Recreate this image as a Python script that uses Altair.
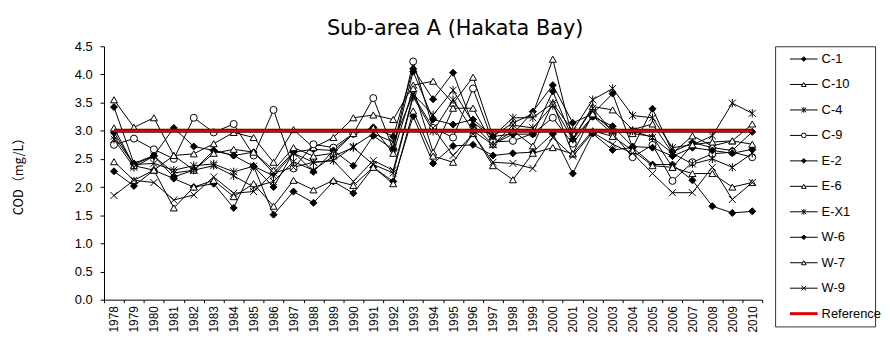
import altair as alt
import pandas as pd

years = list(range(1978, 2011))

series_names = ["C-1", "C-10", "C-4", "C-9", "E-2", "E-6", "E-X1", "W-6", "W-7", "W-9"]

C1 = [3.42, 2.42, 2.56, 3.05, 2.72, 2.65, 2.56, 2.62, 2.25, 2.62, 2.67, 2.65, 2.94, 3.06, 2.90, 4.10, 3.56,
      4.03, 3.10, 2.76, 2.94, 3.34, 3.81, 3.14, 3.30, 3.66, 2.70, 3.39, 2.62, 2.79, 2.70, 2.65, 2.98]
C10 = [3.55, 3.06, 3.23, 2.56, 2.59, 2.77, 2.97, 2.88, 2.44, 3.02, 2.70, 2.88, 3.23, 3.28, 3.20, 3.81, 3.88,
       3.49, 3.95, 2.90, 3.14, 3.30, 4.27, 2.85, 3.43, 3.37, 3.02, 3.12, 2.60, 2.91, 2.73, 2.82, 3.12]
C4 = [2.90, 2.40, 2.42, 2.30, 2.38, 2.41, 2.27, 2.37, 2.20, 2.60, 2.44, 2.47, 2.72, 2.95, 2.80, 3.65, 3.28,
      3.72, 3.14, 2.90, 3.23, 3.23, 3.49, 3.00, 3.55, 3.75, 3.27, 3.23, 2.70, 2.75, 2.91, 3.49, 3.31]
C9 = [2.75, 2.86, 2.67, 2.50, 3.23, 2.97, 3.12, 2.56, 3.37, 2.33, 2.76, 2.70, 2.95, 3.58, 2.67, 4.23, 3.05,
      2.88, 3.75, 2.80, 2.82, 2.95, 3.23, 2.77, 3.26, 2.95, 2.53, 2.75, 2.11, 2.44, 2.59, 2.62, 2.53]
E2 = [2.97, 2.40, 2.55, 2.18, 2.30, 2.65, 2.56, 2.37, 2.00, 2.62, 2.27, 2.65, 2.38, 2.91, 2.67, 4.05, 3.20,
      3.11, 3.20, 2.90, 2.94, 2.94, 3.70, 2.85, 3.25, 3.08, 2.72, 2.70, 2.55, 2.70, 2.65, 2.60, 2.67]
E6 = [3.05, 2.38, 2.30, 2.56, 2.30, 2.60, 2.67, 2.62, 2.30, 2.70, 2.55, 2.60, 2.95, 3.05, 2.60, 3.75, 2.62,
      3.40, 3.40, 2.76, 3.00, 2.73, 3.49, 2.59, 3.30, 3.00, 2.95, 2.90, 2.35, 2.75, 2.80, 2.82, 2.76]
EX1 = [2.85, 2.35, 2.55, 2.25, 2.30, 2.38, 2.20, 2.00, 2.10, 2.45, 2.30, 2.55, 2.70, 2.40, 2.25, 3.60, 2.99,
       3.55, 3.00, 2.75, 3.10, 3.05, 3.45, 2.85, 3.40, 2.98, 3.00, 2.88, 2.60, 2.41, 2.50, 2.35, 2.60]
W6 = [2.28, 2.02, 2.30, 2.15, 2.00, 2.06, 1.63, 2.37, 1.51, 1.92, 1.72, 2.10, 1.89, 2.35, 2.10, 3.26, 2.42,
      2.73, 2.75, 2.56, 2.60, 2.62, 2.95, 2.24, 2.95, 2.66, 2.70, 2.40, 2.40, 2.12, 1.66, 1.54, 1.57]
W7 = [2.45, 2.12, 2.30, 1.63, 2.00, 2.12, 1.83, 2.06, 1.66, 2.12, 1.95, 2.12, 2.03, 2.35, 2.06, 3.35, 2.55,
      2.44, 2.95, 2.38, 2.13, 2.60, 2.70, 2.59, 3.00, 2.90, 2.65, 2.38, 2.35, 2.24, 2.24, 2.00, 2.08]
W9 = [1.85, 2.12, 2.08, 1.77, 1.86, 2.18, 1.89, 1.92, 2.25, 2.35, 2.44, 2.47, 2.10, 2.47, 2.30, 3.63, 3.05,
      2.56, 2.94, 2.44, 2.42, 2.33, 2.88, 2.55, 2.97, 2.76, 2.60, 2.24, 1.90, 1.90, 2.35, 1.78, 2.08]

reference_value = 3.0
reference_name = "Reference"

y_ticks = [0.0, 0.5, 1.0, 1.5, 2.0, 2.5, 3.0, 3.5, 4.0, 4.5]

STAR = "M-1,-1L1,1M-1,1L1,-1M0,-1.2L0,1.2"
XMARK = "M-1,-1L1,1M-1,1L1,-1"
series_shapes = ["diamond", "triangle-up", STAR, "circle", "diamond", "triangle-up", STAR,
                 "diamond", "triangle-up", XMARK]
series_fills = ["black", "white", "white", "white", "black", "white", "white", "black", "white", "white"]

values = [C1, C10, C4, C9, E2, E6, EX1, W6, W7, W9]
rows = []
for name, vals in zip(series_names, values):
    for yr, v in zip(years, vals):
        rows.append({"year": str(yr), "series": name, "value": v})
df = pd.DataFrame(rows)
ref_df = pd.DataFrame({"year": [str(y) for y in years], "value": [reference_value] * len(years)})

year_labels = [str(y) for y in years]

x_enc = alt.X("year:O", scale=alt.Scale(type="band", domain=year_labels, paddingInner=0, paddingOuter=0),
              bandPosition=0.5,
              axis=alt.Axis(title=None, labelAngle=270, tickBand="extent", tickSize=3, labelPadding=3,
                            labelFont="Liberation Sans", labelFontSize=12, labelColor="black",
                            domainColor="black", tickColor="black", grid=False))
y_enc = alt.Y("value:Q", scale=alt.Scale(domain=[0, 4.5], nice=False, zero=True),
              axis=alt.Axis(title="COD（mg/L）", values=y_ticks, format=".1f", grid=False, tickSize=4,
                            labelPadding=8, labelFont="Liberation Sans", labelFontSize=13,
                            labelColor="black", domainColor="black", tickColor="black",
                            titleFont="Noto Sans CJK JP", titleFontSize=13, titleFontWeight="normal",
                            titleColor="black", titlePadding=49))

shape_scale = alt.Scale(domain=series_names, range=series_shapes)
fill_scale = alt.Scale(domain=series_names, range=series_fills)

lines = alt.Chart(df).mark_line(color="black", strokeWidth=1).encode(
    x=x_enc, y=y_enc, detail="series:N", order="year:O")
points = alt.Chart(df).mark_point(stroke="black", strokeWidth=1, opacity=1, fillOpacity=1, size=50).encode(
    x=x_enc, y=y_enc,
    shape=alt.Shape("series:N", scale=shape_scale, legend=None),
    fill=alt.Fill("series:N", scale=fill_scale, legend=None))
ref_dark = alt.Chart(ref_df).mark_line(color="#400000", strokeWidth=4).encode(x=x_enc, y=y_enc)
ref_red = alt.Chart(ref_df).mark_line(color="#e00000", strokeWidth=2.4).encode(x=x_enc, y=y_enc)

main = alt.layer(lines, points, ref_dark, ref_red).properties(
    width=665, height=256, view=alt.ViewBackground(stroke=None))

# legend panel
legend_names = series_names + [reference_name]
leg_df = pd.DataFrame({"name": series_names})
leg_ref = pd.DataFrame({"name": [reference_name]})
leg_all = pd.DataFrame({"name": legend_names})
ly = alt.Y("name:N", scale=alt.Scale(type="point", domain=legend_names, padding=0.5), axis=None)

leg_lines = alt.Chart(leg_df).mark_rule(color="black", strokeWidth=1).encode(
    y=ly, x=alt.value(15), x2=alt.value(43))
leg_refline = alt.Chart(leg_ref).mark_rule(color="#e00000", strokeWidth=3).encode(
    y=ly, x=alt.value(15), x2=alt.value(43))
leg_pts = alt.Chart(leg_df).mark_point(stroke="black", strokeWidth=1, opacity=1, fillOpacity=1, size=22).encode(
    y=ly, x=alt.value(29),
    shape=alt.Shape("name:N", scale=shape_scale, legend=None),
    fill=alt.Fill("name:N", scale=fill_scale, legend=None))
leg_text = alt.Chart(leg_all).mark_text(align="left", baseline="middle", font="Liberation Sans",
                                         fontSize=13, color="black").encode(
    y=ly, x=alt.value(47), text="name:N")

legend = alt.layer(leg_lines, leg_refline, leg_pts, leg_text).properties(
    width=101, height=283, view=alt.ViewBackground(stroke="#333333", strokeWidth=1))

chart = alt.hconcat(main, legend, spacing=11).resolve_scale(shape="independent", fill="independent").properties(
    title=alt.Title("Sub-area A (Hakata Bay)", font="DejaVu Sans", fontSize=21, fontWeight="normal",
                    color="black", anchor="middle", dx=8, dy=4, offset=5),
    padding={"left": 4, "top": 9, "right": 0, "bottom": 0},
).configure_view(strokeWidth=1)

chart.save("out.html", embed_options={"renderer": "svg", "actions": False})
